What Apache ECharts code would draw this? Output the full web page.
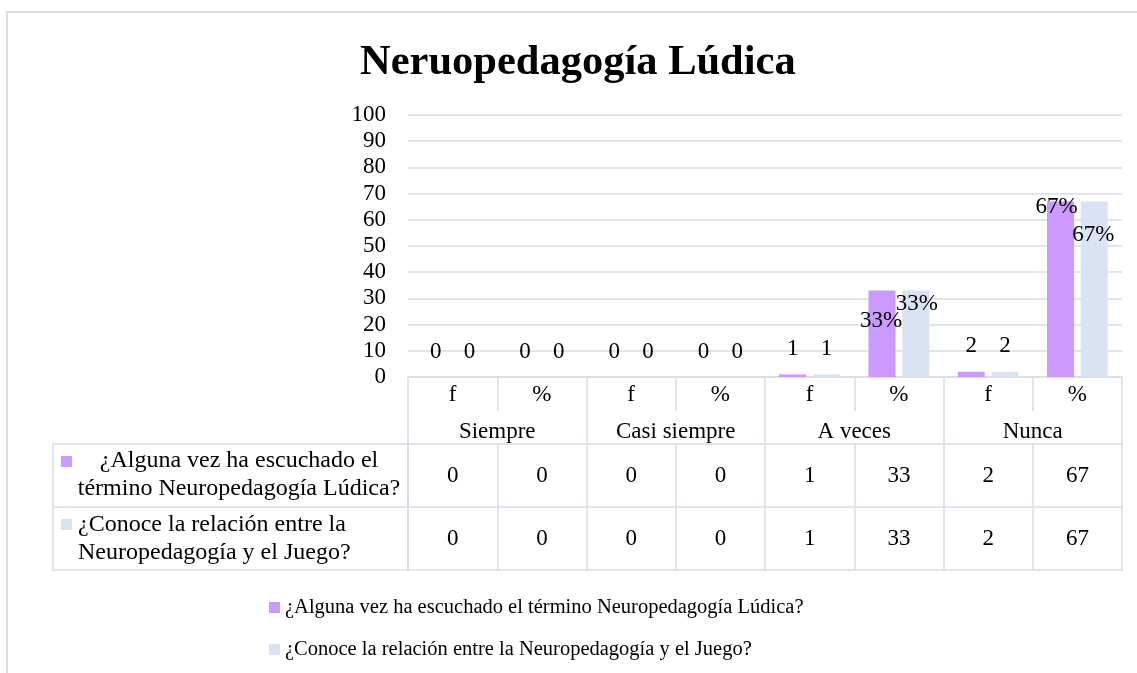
<!DOCTYPE html>
<html>
<head>
<meta charset="utf-8">
<script src="https://cdn.jsdelivr.net/npm/echarts@6/dist/echarts.min.js"></script>
<style>
  html, body { margin: 0; padding: 0; background: #fff; }
  #chart { width: 1137px; height: 673px; }
</style>
</head>
<body>
<div id="chart"></div>
<script>
// categorias del eje y de la tabla
var subCols = ['f', '%', 'f', '%', 'f', '%', 'f', '%'];
var groups = ['Siempre', 'Casi siempre', 'A veces', 'Nunca'];
var seriesNames = [
  '¿Alguna vez ha escuchado el término Neuropedagogía Lúdica?',
  '¿Conoce la relación entre la Neuropedagogía y el Juego?'
];
var alguna = [0, 0, 0, 0, 1, 33, 2, 67];
var conoce = [0, 0, 0, 0, 1, 33, 2, 67];
var yTicks = [0, 10, 20, 30, 40, 50, 60, 70, 80, 90, 100];

var colors = ['#CC99FF', '#DAE3F3'];
var lineCol = '#D9DDE6';
var font = 'Liberation Serif';
var fs = 23;

// ajuste de etiquetas tipo Excel (solo estilo)
var labelTweak = [
  { 5: { position: 'insideTop', offset: [-1, 5] }, 7: { position: 'insideTop', offset: [-4, -20] } },
  { 5: { position: 'insideTop', offset: [1, -12] }, 7: { position: 'insideTop', offset: [-1, 8] } }
];

function buildData(vals, s) {
  return vals.map(function (v, i) {
    var item = { value: v };
    if (labelTweak[s][i]) item.label = labelTweak[s][i];
    return item;
  });
}

// parte el nombre en dos lineas para la celda de la tabla
function twoLines(str, n) {
  var w = str.split(' ');
  return w.slice(0, n).join(' ') + '\n' + w.slice(n).join(' ');
}

var myChart = echarts.init(document.getElementById('chart'));

var tickStyle = { color: lineCol, width: 1.5 };
var lblBase = { color: '#000', fontFamily: font, fontSize: fs };

myChart.setOption({
  animation: false,
  color: colors,
  title: {
    text: 'Neruopedagogía Lúdica',
    left: 355,
    top: 37,
    textStyle: { fontFamily: font, fontSize: 42.5, fontWeight: 'bold', color: '#000' }
  },
  legend: {
    orient: 'vertical',
    left: 264,
    top: 592,
    itemWidth: 11,
    itemHeight: 11,
    itemGap: 21,
    icon: 'rect',
    data: seriesNames,
    textStyle: { fontFamily: font, fontSize: 20.5, color: '#000' }
  },
  grid: { left: 408, right: 15, top: 115, bottom: 296 },
  xAxis: [
    {
      type: 'category', data: subCols, position: 'bottom',
      axisLine: { show: true, lineStyle: tickStyle },
      axisTick: { show: true, length: 34, lineStyle: tickStyle },
      axisLabel: Object.assign({ margin: 6, interval: 0 }, lblBase)
    },
    {
      type: 'category', data: groups, position: 'bottom',
      axisLine: { show: false },
      axisTick: { show: true, length: 193, lineStyle: tickStyle },
      axisLabel: Object.assign({ margin: 43, interval: 0 }, lblBase)
    },
    {
      type: 'category', data: subCols, position: 'bottom', offset: 67,
      axisLine: { show: true, lineStyle: tickStyle },
      axisTick: { show: true, length: 126, lineStyle: tickStyle },
      axisLabel: Object.assign({
        margin: 20, interval: 0,
        formatter: function (v, i) { return String(alguna[i]); }
      }, lblBase)
    },
    {
      type: 'category', data: subCols, position: 'bottom', offset: 130,
      axisLine: { show: true, lineStyle: tickStyle },
      axisTick: { show: false },
      axisLabel: Object.assign({
        margin: 20, interval: 0,
        formatter: function (v, i) { return String(conoce[i]); }
      }, lblBase)
    },
    {
      type: 'category', data: subCols, position: 'bottom', offset: 193,
      axisLine: { show: true, lineStyle: tickStyle },
      axisTick: { show: false },
      axisLabel: { show: false }
    }
  ],
  yAxis: {
    type: 'value', min: yTicks[0], max: yTicks[yTicks.length - 1], interval: 10,
    axisLine: { show: false },
    axisTick: { show: false },
    splitLine: { lineStyle: { color: lineCol, width: 1.5 } },
    axisLabel: Object.assign({ margin: 22 }, lblBase)
  },
  series: [alguna, conoce].map(function (vals, s) {
    return {
      name: seriesNames[s],
      type: 'bar',
      xAxisIndex: 0,
      barWidth: 27,
      barGap: '25%',
      data: buildData(vals, s),
      label: {
        show: true,
        position: 'top',
        distance: 14,
        color: '#000',
        fontFamily: font,
        fontSize: fs,
        formatter: function (p) {
          return (subCols[p.dataIndex] === '%' && p.value > 0) ? p.value + '%' : String(p.value);
        }
      }
    };
  }),
  graphic: [
    // marco del grafico
    { type: 'rect', z: -10, shape: { x: 7, y: 12, width: 1200, height: 700 },
      style: { fill: 'none', stroke: lineCol, lineWidth: 2 } },
    // columna izquierda de la tabla
    { type: 'rect', shape: { x: 53, y: 444, width: 355, height: 126 },
      style: { fill: 'none', stroke: lineCol, lineWidth: 1.5 } },
    { type: 'line', shape: { x1: 53, y1: 507, x2: 408, y2: 507 },
      style: { stroke: lineCol, lineWidth: 1.5 } },
    { type: 'rect', shape: { x: 61, y: 456, width: 11, height: 11 }, style: { fill: colors[0] } },
    { type: 'rect', shape: { x: 61, y: 519, width: 11, height: 11 }, style: { fill: colors[1] } },
    { type: 'text', x: 239, y: 447,
      style: { text: twoLines(seriesNames[0], 5), align: 'center',
        lineHeight: 28, font: '24px "' + font + '"', fill: '#000' } },
    { type: 'text', x: 78, y: 511,
      style: { text: twoLines(seriesNames[1], 5), align: 'left',
        lineHeight: 28, font: '24px "' + font + '"', fill: '#000' } }
  ]
});
</script>
</body>
</html>
